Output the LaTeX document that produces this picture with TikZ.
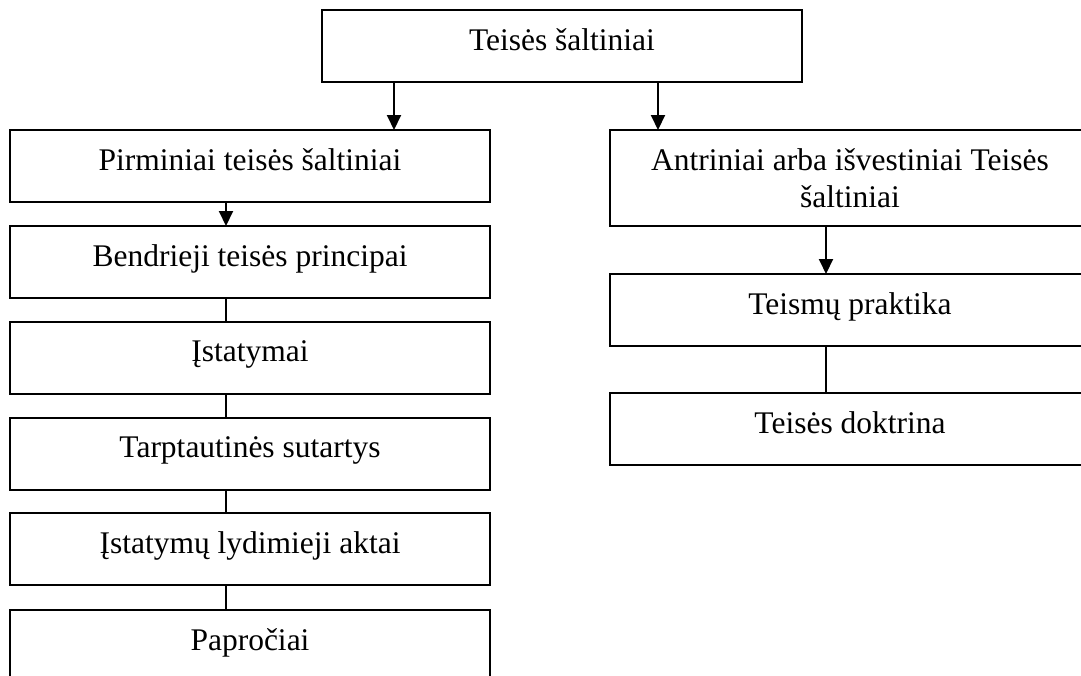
\documentclass[tikz,border=0pt]{standalone}
\usepackage{fontspec}
\setmainfont{Liberation Serif}
\usetikzlibrary{arrows.meta}
\begin{document}
\begin{tikzpicture}[x=0.5pt,y=-0.5pt,
  box/.style={draw, line width=1pt, rectangle, inner sep=0pt, outer sep=0pt,
    minimum width=240pt, minimum height=36pt,
    font=\fontsize{15.75}{18.5}\selectfont, text height=12pt, text depth=8pt},
  tallbox/.style={draw, line width=1pt, rectangle, inner sep=0pt, outer sep=0pt,
    minimum width=240pt, minimum height=48pt, align=center,
    font=\fontsize{15.75}{18.5}\selectfont},
  arr/.style={line width=1pt, -{Triangle[length=7.5pt,width=7pt]}},
  link/.style={line width=1pt}]
\clip (0,0) rectangle (1081,675);
\fill[white] (0,0) rectangle (1081,675);
\node[box] (top) at (562,46) {Teisės šaltiniai};
\node[box] (pirm) at (250,166) {Pirminiai teisės šaltiniai};
\node[box] (bend) at (250,262) {Bendrieji teisės principai};
\node[box] (ist) at (250,357.5) {Įstatymai};
\node[box] (tarp) at (250,453.5) {Tarptautinės sutartys};
\node[box] (lyd) at (250,549) {Įstatymų lydimieji aktai};
\node[box] (pap) at (250,646) {Papročiai};
\node[tallbox] (antr) at (850,178) {Antriniai arba išvestiniai Teisės\\šaltiniai};
\node[box] (teism) at (850,310) {Teismų praktika};
\node[box] (dokt) at (850,429) {Teisės doktrina};
\draw[arr] ([xshift=-84pt]top.south) -- ([xshift=-84pt]top.south |- pirm.north);
\draw[arr] ([xshift=48pt]top.south) -- ([xshift=48pt]top.south |- antr.north);
\draw[arr] ([xshift=-12pt]pirm.south) -- ([xshift=-12pt]bend.north);
\draw[link] ([xshift=-12pt]bend.south) -- ([xshift=-12pt]ist.north);
\draw[link] ([xshift=-12pt]ist.south) -- ([xshift=-12pt]tarp.north);
\draw[link] ([xshift=-12pt]tarp.south) -- ([xshift=-12pt]lyd.north);
\draw[link] ([xshift=-12pt]lyd.south) -- ([xshift=-12pt]pap.north);
\draw[arr] ([xshift=-12pt]antr.south) -- ([xshift=-12pt]teism.north);
\draw[link] ([xshift=-12pt]teism.south) -- ([xshift=-12pt]dokt.north);
\end{tikzpicture}
\end{document}
